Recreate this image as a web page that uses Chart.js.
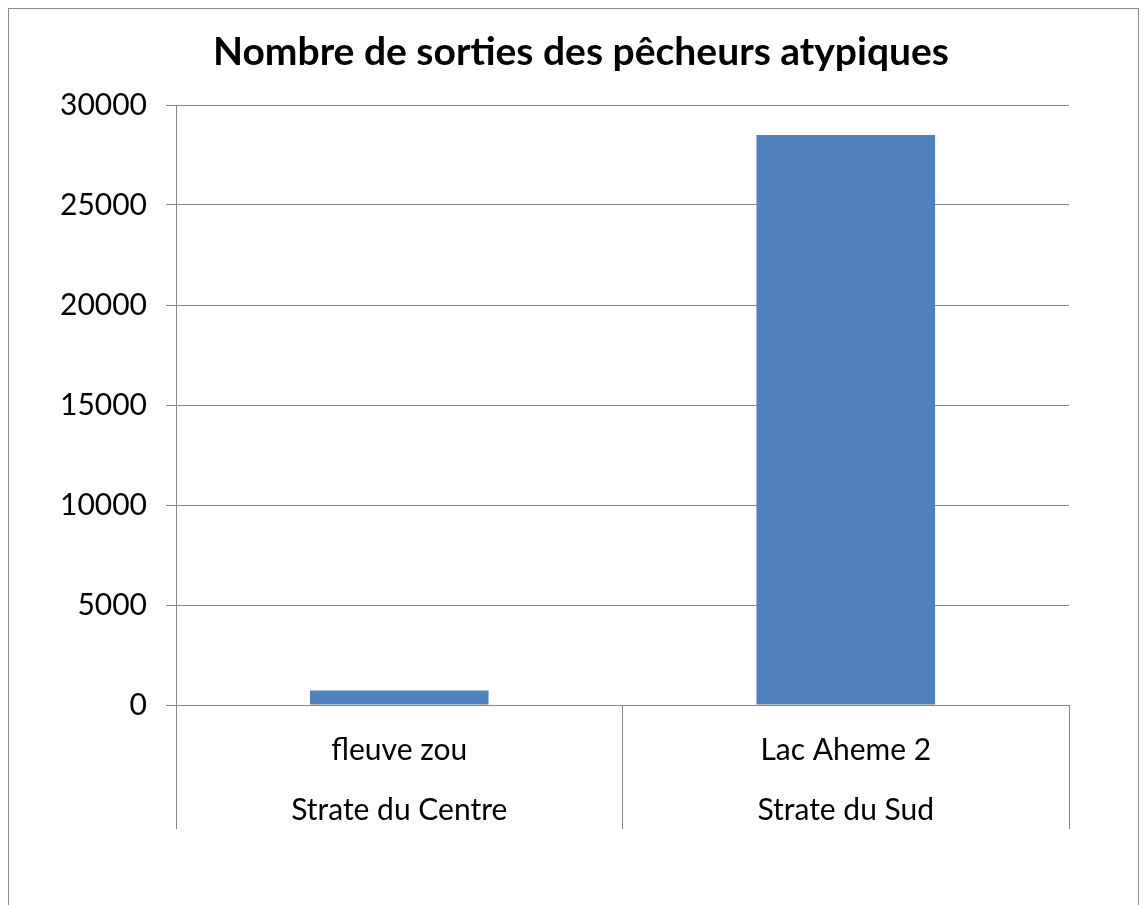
<!DOCTYPE html>
<html>
<head>
<meta charset="utf-8">
<script src="https://cdn.jsdelivr.net/npm/chart.js@4"></script>
<style>
  html, body { margin: 0; padding: 0; background: #fff; overflow: hidden; }
  #wrap { position: relative; width: 1147px; height: 905px; }
  #frame { position: absolute; left: 8px; top: 8px; width: 1131px; height: 1000px; border: 1.5px solid #8c8c8c; box-sizing: border-box; pointer-events: none; }
</style>
</head>
<body>
<div id="wrap">
  <canvas id="chart" width="1147" height="905"></canvas>
  <div id="frame"></div>
</div>
<script>
// chart data
const titleText = 'Nombre de sorties des pêcheurs atypiques';
const sites = ['fleuve zou', 'Lac Aheme 2'];
const strates = ['Strate du Centre', 'Strate du Sud'];
const sorties = [720, 28500];
const yMin = 0, yMax = 30000, yStep = 5000;

const gridGrey = '#868686';
const fontFamily = 'Lato, "Open Sans", sans-serif';

new Chart(document.getElementById('chart'), {
  type: 'bar',
  data: {
    labels: sites.map((s, i) => [s, strates[i]]),
    datasets: [{
      data: sorties,
      backgroundColor: '#4f81bd',
      borderWidth: 0,
      categoryPercentage: 1,
      barPercentage: 0.4
    }]
  },
  options: {
    responsive: false,
    animation: false,
    layout: { padding: { left: 15, right: 0, top: 0, bottom: 0 } },
    plugins: {
      legend: { display: false },
      tooltip: { enabled: false },
      title: {
        display: true,
        text: titleText,
        color: '#000',
        font: { family: fontFamily, size: 39, weight: 'bold', lineHeight: 1.2 },
        padding: { top: 29, bottom: 29.2 }
      }
    },
    scales: {
      y: {
        min: yMin,
        max: yMax,
        afterFit: s => { s.width = 161; },
        ticks: {
          stepSize: yStep,
          color: '#000',
          padding: 19,
          font: { family: fontFamily, size: 30 },
          callback: v => String(v)
        },
        grid: { color: gridGrey, lineWidth: 1, tickLength: 10 },
        border: { display: true, color: gridGrey }
      },
      // empty right-hand axis, only keeps the plot's right margin
      yRight: {
        type: 'linear',
        position: 'right',
        afterFit: s => { s.width = 78; },
        ticks: { display: false },
        grid: { display: false },
        border: { display: false }
      },
      x: {
        afterFit: s => { s.height = 200; },
        ticks: {
          color: '#000',
          padding: -109,
          maxRotation: 0,
          font: { family: fontFamily, size: 30, lineHeight: 2 }
        },
        grid: { offset: true, drawOnChartArea: false, tickLength: 124, color: gridGrey },
        border: { display: true, color: gridGrey }
      }
    }
  }
});
</script>
</body>
</html>
